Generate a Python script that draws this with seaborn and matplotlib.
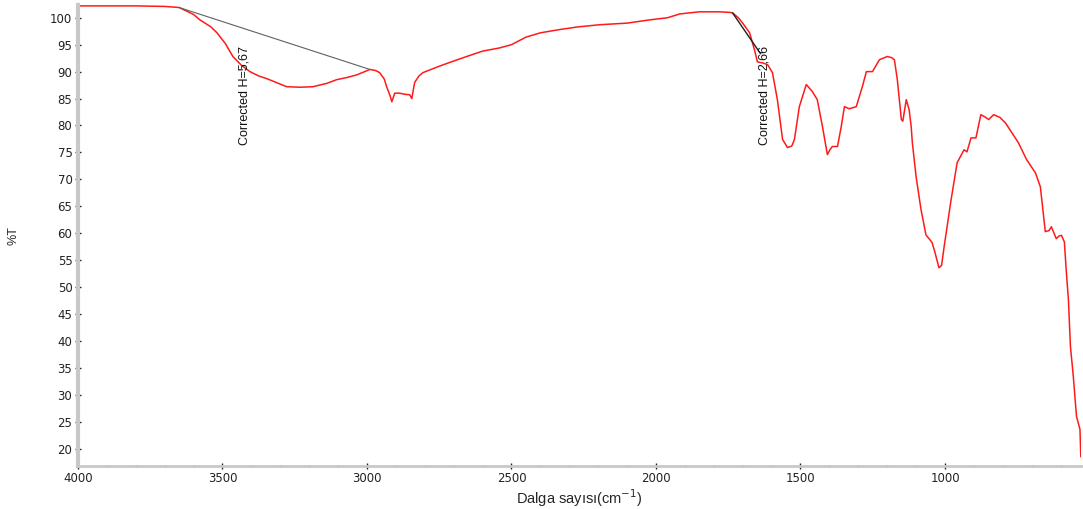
import numpy as np
import pandas as pd
import matplotlib
matplotlib.use("Agg")
import matplotlib.pyplot as plt
from matplotlib.ticker import MultipleLocator
import seaborn as sns

# ==================== 数据 ====================
wavenumber = [4000, 3900, 3800, 3700, 3650, 3600, 3578, 3540, 3519, 3490,
              3464, 3435, 3405, 3375, 3347, 3310, 3278, 3230, 3187, 3140,
              3105, 3070, 3035, 2990, 2970, 2956, 2940, 2932, 2920, 2914,
              2908, 2904, 2887, 2870, 2852, 2845, 2840, 2835, 2820, 2807,
              2793, 2750, 2714, 2650, 2600, 2541, 2500, 2450, 2400, 2334,
              2270, 2195, 2100, 2022, 1960, 1918, 1850, 1780, 1746, 1735,
              1715, 1700, 1676, 1659, 1649, 1630, 1614, 1597, 1580, 1562,
              1545, 1530, 1521, 1504, 1480, 1459, 1442, 1424, 1407, 1398,
              1390, 1372, 1359, 1348, 1331, 1307, 1286, 1272, 1251, 1227,
              1200, 1185, 1175, 1165, 1158, 1151, 1146, 1138, 1134, 1124,
              1117, 1113, 1100, 1083, 1066, 1045, 1035, 1021, 1012, 1003,
              979, 958, 934, 924, 910, 893, 876, 862, 849, 832,
              810, 791, 746, 718, 687, 670, 653, 640, 632, 615,
              605, 597, 587, 580, 573, 566, 556, 545, 533, 530]
transmittance = [102.2, 102.2, 102.2, 102.1, 101.9, 100.6, 99.6, 98.3, 97.2, 95.2,
                 92.8, 91.2, 90.0, 89.2, 88.7, 87.9, 87.2, 87.1, 87.2, 87.8,
                 88.5, 88.9, 89.4, 90.4, 90.2, 89.8, 88.6, 87.2, 85.5, 84.4,
                 85.4, 86.0, 86.0, 85.8, 85.7, 85.0, 86.5, 88.0, 89.2, 89.8,
                 90.1, 91.0, 91.7, 92.9, 93.8, 94.4, 95.0, 96.4, 97.2, 97.8,
                 98.3, 98.7, 99.0, 99.6, 100.0, 100.7, 101.1, 101.1, 101.0, 100.9,
                 100.0, 99.0, 97.2, 94.0, 91.8, 91.6, 91.3, 89.8, 84.8, 77.4,
                 75.9, 76.2, 77.4, 83.5, 87.6, 86.3, 84.8, 79.8, 74.6, 75.5,
                 76.1, 76.1, 79.8, 83.5, 83.1, 83.5, 87.2, 90.0, 90.0, 92.2,
                 92.8, 92.6, 92.2, 88.5, 84.8, 81.1, 80.8, 83.5, 84.8, 82.9,
                 79.8, 76.8, 70.5, 64.4, 59.7, 58.3, 56.5, 53.6, 54.0, 57.5,
                 66.2, 73.1, 75.5, 75.1, 77.7, 77.7, 82.0, 81.6, 81.1, 82.0,
                 81.5, 80.5, 76.8, 73.7, 71.2, 68.6, 60.3, 60.5, 61.2, 59.0,
                 59.5, 59.6, 58.4, 52.7, 47.7, 39.0, 33.4, 26.0, 23.6, 18.5]

# 基线（Corrected H 标注用）
base1_x = [3650, 2990]
base1_y = [101.9, 90.4]
base2_x = [1735, 1638]
base2_y = [100.9, 93.3]

labels = ["Corrected H=5,67", "Corrected H=2,66"]
label_x = [3423, 1626]

df = pd.DataFrame({"wn": wavenumber, "T": transmittance})

# ==================== 绘图 ====================
sns.set_style("white")
plt.rcParams['font.family'] = ['DejaVu Sans']

fig = plt.figure(figsize=(10.83, 5.09), dpi=100)
ax = fig.add_axes([0.072, 0.0845, 0.926, 0.905])

sns.lineplot(data=df, x="wn", y="T", sort=False, estimator=None,
             color="#ff1a1a", linewidth=1.1, ax=ax)
sns.lineplot(x=base1_x, y=base1_y, color="#606060", linewidth=0.8, ax=ax)
sns.lineplot(x=base2_x, y=base2_y, color="#202020", linewidth=1.0, ax=ax)

for lx, txt in zip(label_x, labels):
    ax.text(lx, 76.3, txt, rotation=90, ha="center", va="bottom",
            fontsize=9, family="Liberation Sans", color="#111111")

ax.set_xlim(4000, 530)
ax.set_ylim(16.8, 102.3)
ax.xaxis.set_major_locator(MultipleLocator(500))
ax.xaxis.set_minor_locator(MultipleLocator(100))
ax.yaxis.set_major_locator(MultipleLocator(5))
ax.yaxis.set_minor_locator(MultipleLocator(1))

for side in ["top", "right"]:
    ax.spines[side].set_visible(False)
ax.spines["left"].set_color("#c8c8c8")
ax.spines["left"].set_linewidth(3)
ax.spines["bottom"].set_color("#c8c8c8")
ax.spines["bottom"].set_linewidth(2)

ax.tick_params(which="major", direction="inout", length=4, width=1,
               color="#222222", labelsize=8.5, labelcolor="#222222", pad=2)
ax.tick_params(which="minor", direction="inout", length=2, width=1,
               color="#444444")
ax.tick_params(axis="x", which="both", bottom=True)
ax.tick_params(axis="y", which="both", left=True)

ax.set_xlabel("Dalga sayısı(cm$^{-1}$)", fontsize=10.5,
              family="Liberation Sans", labelpad=2)
ax.set_ylabel("%T", fontsize=9, family="Liberation Sans")
ax.yaxis.set_label_coords(-0.058, 0.5)

fig.savefig("out.png", dpi=100)
